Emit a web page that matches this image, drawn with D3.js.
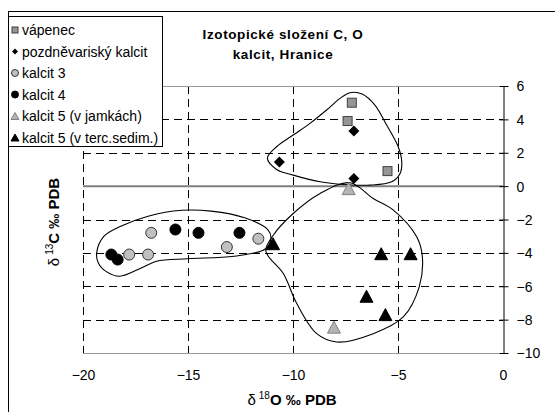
<!DOCTYPE html>
<html><head><meta charset="utf-8">
<script src="https://cdn.jsdelivr.net/npm/d3@7"></script>
<style>
html,body{margin:0;padding:0;background:#fff;}
svg{display:block;font-family:"Liberation Sans",Arial,sans-serif;}
</style></head>
<body>
<svg id="chart" width="555" height="412"></svg>
<script>
// ---- data (δ18O, δ13C) ----
const vapenec = [[-7.2, 5.0], [-7.4, 3.9], [-5.5, 0.9]];
const pozdnevarisky = [[-7.1, 3.3], [-10.65, 1.45], [-7.1, 0.45]];
const kalcit3 = [[-16.75, -2.8], [-17.8, -4.1], [-16.9, -4.1], [-13.15, -3.65], [-11.65, -3.15]];
const kalcit4 = [[-18.65, -4.1], [-18.35, -4.4], [-15.6, -2.6], [-14.5, -2.8], [-12.55, -2.8]];
const kalcit5jamky = [[-7.35, -0.15], [-8.05, -8.45]];
const kalcit5terc = [[-10.95, -3.45], [-5.8, -4.05], [-4.4, -4.05], [-6.5, -6.6], [-5.6, -7.7]];

const xTicks = [-20, -15, -10, -5, 0];
const yTicks = [6, 4, 2, 0, -2, -4, -6, -8, -10];
const legendLabels = ["vápenec", "pozdněvariský kalcit", "kalcit 3", "kalcit 4", "kalcit 5 (v jamkách)", "kalcit 5 (v terc.sedim.)"];
const titleLines = ["Izotopické složení C, O", "kalcit, Hranice"];

// hand-drawn group outlines (data coordinates)
const outlineUpper = [[-7.29,5.6],[-6.71,5.52],[-6.1,4.86],[-5.54,3.66],[-4.99,2.36],[-4.82,1.46],[-4.9,0.76],[-5.3,0.26],[-6.33,0.06],[-7.6,0.1],[-8.71,0.26],[-9.99,0.66],[-10.78,1.0],[-11.22,1.68],[-10.78,2.36],[-9.99,3.06],[-9.19,3.76],[-8.4,4.56],[-7.76,5.26]];
const outlineLeft = [[-19.35,-4.0],[-19.0,-3.0],[-18.2,-2.4],[-16.9,-1.8],[-15.3,-1.45],[-13.9,-1.5],[-12.3,-1.9],[-11.2,-2.6],[-11.05,-3.1],[-11.3,-3.75],[-12.8,-4.2],[-15.0,-4.35],[-16.5,-4.5],[-17.3,-4.95],[-18.24,-5.4],[-18.87,-5.14],[-19.27,-4.6]];
const outlineLower = [[-7.29,0.2],[-6.18,-0.74],[-5.22,-1.44],[-4.11,-3.04],[-3.84,-4.24],[-3.99,-6.04],[-4.75,-7.84],[-6.18,-8.84],[-7.92,-9.34],[-8.87,-8.84],[-9.82,-7.04],[-10.46,-5.24],[-11.29,-3.9],[-10.94,-2.94],[-9.99,-1.64],[-8.71,-0.44]];

const svg = d3.select("#chart");
const x = d3.scaleLinear().domain([-20, 0]).range([83, 503]);
const y = d3.scaleLinear().domain([-10, 6]).range([353, 86]);

// outer frame
svg.append("rect").attr("x", 8.5).attr("y", 11.5).attr("width", 600).attr("height", 440)
  .attr("fill", "#fff").attr("stroke", "#000");

// gridlines
const g = svg.append("g");
g.selectAll("line.hg").data(yTicks.filter(d => d !== 6 && d !== -10 && d !== 0)).join("line")
  .attr("x1", x(-20)).attr("x2", x(0)).attr("y1", d => Math.round(y(d)) + 0.5).attr("y2", d => Math.round(y(d)) + 0.5)
  .attr("stroke", "#000").attr("stroke-dasharray", "8,5");
g.selectAll("line.vg").data(xTicks.filter(d => d !== 0)).join("line")
  .attr("y1", y(6)).attr("y2", y(-10)).attr("x1", d => Math.round(x(d)) + 0.5).attr("x2", d => Math.round(x(d)) + 0.5)
  .attr("stroke", "#000").attr("stroke-dasharray", "8,5");
// top/bottom borders
[6, -10].forEach(v => g.append("line").attr("x1", x(-20)).attr("x2", x(0))
  .attr("y1", Math.round(y(v)) + 0.5).attr("y2", Math.round(y(v)) + 0.5).attr("stroke", "#999"));
// zero line (x axis)
g.append("line").attr("x1", x(-20)).attr("x2", x(0)).attr("y1", y(0)).attr("y2", y(0))
  .attr("stroke", "#808080").attr("stroke-width", 2);

// y axis on the right at x=0
const yAxis = d3.axisRight(y).tickValues(yTicks).tickSize(0).tickPadding(13).tickFormat(d3.format("d"));
const ya = svg.append("g").attr("transform", `translate(${Math.round(x(0)) + 0.5},0)`).call(yAxis);
ya.select(".domain").attr("stroke", "#000");
ya.selectAll(".tick text").attr("font-size", 14).attr("font-family", "Liberation Sans, Arial, sans-serif").attr("fill", "#000").attr("text-anchor", "start").attr("dy", "0.35em");
ya.selectAll(".tick").append("line").attr("x1", -4).attr("x2", 5).attr("stroke", "#000");

// x axis labels at bottom
const xAxis = d3.axisBottom(x).tickValues(xTicks).tickSize(0).tickPadding(17).tickFormat(d3.format("d"));
const xa = svg.append("g").attr("transform", `translate(0,${y(-10)})`).call(xAxis);
xa.select(".domain").remove();
xa.selectAll(".tick text").attr("font-size", 14).attr("font-family", "Liberation Sans, Arial, sans-serif").attr("fill", "#000");

// outlines
const lineGen = d3.line().x(d => x(d[0])).y(d => y(d[1])).curve(d3.curveCatmullRomClosed.alpha(0.5));
[outlineUpper, outlineLeft, outlineLower].forEach(o => {
  svg.append("path").attr("d", lineGen(o)).attr("fill", "none").attr("stroke", "#000").attr("stroke-width", 1.1);
});

// markers
function square(sel, cx, cy, s) { sel.append("rect").attr("x", cx - s/2).attr("y", cy - s/2).attr("width", s).attr("height", s)
  .attr("fill", "#969696").attr("stroke", "#404040").attr("stroke-width", 1); }
function diamond(sel, cx, cy, s) { sel.append("path").attr("d", `M${cx},${cy - s/2}L${cx + s/2},${cy}L${cx},${cy + s/2}L${cx - s/2},${cy}Z`).attr("fill", "#000"); }
function circle(sel, cx, cy, r, fill) { sel.append("circle").attr("cx", cx).attr("cy", cy).attr("r", r)
  .attr("fill", fill).attr("stroke", fill === "#000" ? "#000" : "#333").attr("stroke-width", 1); }
function tri(sel, cx, cy, w, h, fill) { sel.append("path").attr("d", `M${cx},${cy - h/2}L${cx + w/2},${cy + h/2}L${cx - w/2},${cy + h/2}Z`)
  .attr("fill", fill).attr("stroke", fill === "#000" ? "#000" : "#808080").attr("stroke-width", 1); }

const m = svg.append("g");
vapenec.forEach(d => square(m, x(d[0]), y(d[1]), 9));
pozdnevarisky.forEach(d => diamond(m, x(d[0]), y(d[1]), 11));
kalcit3.forEach(d => circle(m, x(d[0]), y(d[1]), 5.5, "#c0c0c0"));
kalcit4.forEach(d => circle(m, x(d[0]), y(d[1]), 5.5, "#000"));
kalcit5jamky.forEach(d => tri(m, x(d[0]), y(d[1]), 13, 12, "#b4b4b4"));
kalcit5terc.forEach(d => tri(m, x(d[0]), y(d[1]), 13, 12, "#000"));

// title
svg.append("text").attr("x", 283).attr("y", 39).attr("text-anchor", "middle").attr("font-weight", "bold").attr("font-size", 13.5).attr("letter-spacing", 0.6).text(titleLines[0]);
svg.append("text").attr("x", 283).attr("y", 59).attr("text-anchor", "middle").attr("font-weight", "bold").attr("font-size", 13.5).attr("letter-spacing", 0.6).text(titleLines[1]);

// axis titles
const xt = svg.append("text").attr("x", 292).attr("y", 405).attr("text-anchor", "middle").attr("font-size", 15);
xt.append("tspan").text("δ");
xt.append("tspan").attr("font-size", 10).attr("dy", -6).attr("dx", 3).text("18");
xt.append("tspan").attr("dy", 6).attr("font-weight", "bold").text("O ‰  PDB");

const yt = svg.append("text").attr("transform", "translate(59,222) rotate(-90)").attr("text-anchor", "middle").attr("font-size", 15);
yt.append("tspan").text("δ");
yt.append("tspan").attr("font-size", 10).attr("dy", -6).attr("dx", 3).text("13");
yt.append("tspan").attr("dy", 6).attr("font-weight", "bold").text("C ‰  PDB");

// legend
const lg = svg.append("g");
lg.append("rect").attr("x", 8.5).attr("y", 16.5).attr("width", 154).attr("height", 130).attr("fill", "#fff").attr("stroke", "#000");
const rowY = i => 30 + i * 21.5;
legendLabels.forEach((t, i) => {
  lg.append("text").attr("x", 22).attr("y", rowY(i) + 5).attr("font-size", 14).text(t);
});
square(lg, 15, rowY(0), 6);
diamond(lg, 15, rowY(1), 6);
circle(lg, 15, rowY(2), 3.5, "#c0c0c0");
circle(lg, 15, rowY(3), 3.5, "#000");
tri(lg, 15, rowY(4), 8, 7, "#b4b4b4");
tri(lg, 15, rowY(5), 8, 7, "#000");
</script>
</body></html>
